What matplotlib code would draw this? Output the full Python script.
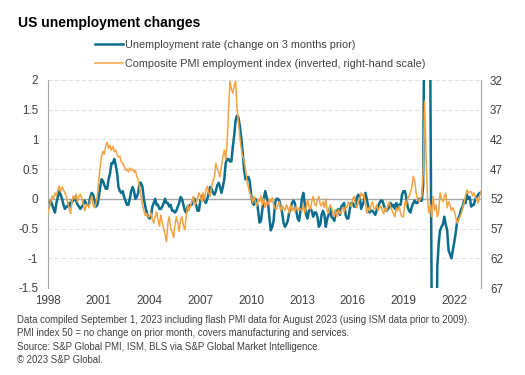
import numpy as np
import pandas as pd
import matplotlib
matplotlib.use('Agg')
import matplotlib.pyplot as plt
import matplotlib.dates as mdates

plt.rcParams['font.family'] = ['Liberation Sans', 'DejaVu Sans']

# US unemployment rate, change on 3 months prior (ppts), monthly Jan 1998 - Aug 2023
unemp_chg = [
    -0.17, -0.10, -0.03, -0.10, -0.17, -0.23, -0.07, 0.03, 0.13, 0.07, 0.00, -0.10,   # 1998
    -0.17, -0.13, -0.13, -0.07, -0.13, -0.03, -0.03, 0.03, -0.03, -0.10, -0.13, -0.17,  # 1999
    -0.13, -0.10, -0.03, -0.07, -0.10, -0.10, 0.03, 0.10, 0.07, -0.03, -0.13, -0.10,   # 2000
    0.03, 0.20, 0.33, 0.30, 0.23, 0.17, 0.17, 0.33, 0.43, 0.60, 0.60, 0.67,            # 2001
    0.57, 0.43, 0.20, 0.13, 0.10, 0.13, 0.03, -0.03, -0.10, -0.10, 0.00, 0.13,         # 2002
    0.20, 0.13, 0.00, 0.03, 0.10, 0.27, 0.27, 0.20, 0.00, -0.13, -0.23, -0.30,         # 2003
    -0.33, -0.30, -0.13, -0.07, 0.00, -0.10, -0.10, -0.17, -0.17, -0.13, -0.07, 0.00,  # 2004
    -0.07, -0.07, -0.13, -0.10, -0.20, -0.20, -0.23, -0.20, -0.13, -0.07, 0.03, 0.00,  # 2005
    -0.10, -0.20, -0.23, -0.13, -0.13, -0.10, -0.10, 0.00, 0.00, -0.10, -0.20, -0.20,  # 2006
    -0.03, 0.03, 0.07, -0.03, -0.07, 0.00, 0.10, 0.20, 0.17, 0.10, 0.07, 0.13,         # 2007
    0.23, 0.27, 0.20, 0.10, 0.20, 0.33, 0.60, 0.67, 0.67, 0.63, 0.63, 0.87,            # 2008
    1.07, 1.33, 1.40, 1.37, 1.23, 1.03, 0.80, 0.50, 0.33, 0.33, 0.37, 0.30,            # 2009
    0.07, -0.07, -0.10, 0.00, -0.03, -0.20, -0.40, -0.37, -0.17, 0.00, 0.13, 0.03,     # 2010
    -0.07, -0.33, -0.53, -0.47, -0.37, -0.07, 0.00, 0.00, -0.03, -0.13, -0.23, -0.40,  # 2011
    -0.47, -0.43, -0.37, -0.23, -0.17, -0.07, -0.03, -0.07, -0.20, -0.33, -0.37, -0.20,  # 2012
    0.00, 0.10, -0.07, -0.27, -0.33, -0.20, -0.17, -0.20, -0.30, -0.23, -0.23, -0.30,  # 2013
    -0.47, -0.43, -0.27, -0.20, -0.27, -0.47, -0.33, -0.27, -0.13, -0.30, -0.33, -0.37,  # 2014
    -0.20, -0.20, -0.17, -0.27, -0.13, -0.10, -0.07, -0.27, -0.33, -0.33, -0.17, -0.07,  # 2015
    -0.07, -0.13, -0.13, 0.03, 0.07, 0.03, -0.17, -0.10, -0.03, 0.10, 0.00, -0.13,    # 2016
    -0.23, -0.20, -0.20, -0.23, -0.27, -0.20, -0.13, -0.07, -0.03, -0.03, -0.10, -0.17,  # 2017
    -0.20, -0.17, -0.13, -0.07, -0.13, -0.10, -0.17, -0.07, -0.17, -0.10, -0.10, 0.07,  # 2018
    0.13, 0.13, 0.03, -0.13, -0.20, -0.23, -0.13, -0.07, -0.03, -0.07, -0.07, 0.00,    # 2019
    -0.03, -0.03, 0.23, 3.97, 7.23, 9.47, 7.67, 2.30, -1.97, -5.27, -4.30, -3.10,      # 2020
    -1.13, -0.73, -0.53, -0.47, -0.43, -0.30, -0.43, -0.53, -0.87, -0.93, -1.00, -0.87,  # 2021
    -0.73, -0.57, -0.40, -0.33, -0.27, -0.17, -0.13, -0.03, -0.07, 0.07, 0.00, 0.03,   # 2022
    -0.13, -0.10, -0.10, 0.00, 0.03, 0.07, 0.10, 0.10,                                 # 2023
]

# Composite PMI employment index (ISM before 2009), same months
pmi_emp = [
    54.4, 53.2, 52.5, 51.5, 52.0, 51.0, 51.5, 50.5, 49.8, 50.8, 50.0, 50.5,  # 1998
    51.0, 51.5, 52.5, 53.5, 54.5, 52.5, 51.5, 52.0, 51.2, 52.5, 51.5, 51.2,  # 1999
    52.0, 52.8, 54.0, 53.2, 52.8, 53.5, 52.5, 51.5, 53.0, 53.5, 52.8, 51.5,  # 2000
    48.8, 46.5, 44.8, 44.0, 44.5, 43.0, 42.5, 43.5, 43.0, 43.8, 43.2, 44.0,  # 2001
    43.8, 44.5, 45.0, 44.8, 45.8, 46.0, 46.5, 47.2, 47.0, 47.5, 46.8, 47.2,  # 2002
    47.0, 47.5, 47.2, 48.2, 48.8, 50.0, 51.6, 53.0, 54.0, 54.8, 54.5, 55.0,  # 2003
    55.0, 54.4, 55.5, 56.1, 55.0, 54.2, 55.5, 56.6, 54.7, 56.0, 57.0, 58.0,  # 2004
    59.2, 56.0, 55.0, 57.0, 57.5, 58.5, 56.5, 55.0, 56.0, 57.5, 55.5, 55.0,  # 2005
    56.5, 57.2, 55.0, 53.0, 54.0, 53.2, 52.5, 51.6, 53.0, 52.7, 52.0, 51.0,  # 2006
    51.5, 52.5, 51.0, 52.2, 50.5, 49.9, 51.0, 51.6, 50.0, 49.0, 48.3, 46.0,  # 2007
    47.0, 47.5, 48.3, 46.5, 45.0, 43.8, 45.4, 42.5, 37.0, 32.2, 33.5, 34.2,  # 2008
    33.0, 32.2, 36.5, 39.0, 41.5, 43.5, 44.8, 45.5, 47.0, 48.8, 50.0, 51.0,  # 2009
    51.5, 52.7, 51.6, 52.5, 53.3, 52.0, 52.5, 51.5, 53.0, 52.0, 53.5, 52.5,  # 2010
    53.0, 52.0, 52.5, 51.8, 53.0, 53.6, 53.8, 53.0, 52.5, 54.0, 53.2, 53.5,  # 2011
    54.0, 53.0, 53.5, 54.4, 53.0, 54.0, 53.5, 54.2, 53.2, 54.0, 53.5, 53.8,  # 2012
    54.0, 53.0, 54.4, 53.5, 52.2, 53.2, 53.8, 52.5, 51.6, 52.8, 53.2, 52.2,  # 2013
    51.6, 53.0, 53.2, 52.5, 53.5, 52.0, 54.0, 54.4, 53.0, 53.5, 54.5, 55.0,  # 2014
    54.0, 55.0, 53.8, 54.5, 54.0, 53.5, 54.2, 53.2, 53.5, 52.5, 53.0, 53.3,  # 2015
    52.0, 51.6, 53.0, 53.5, 52.5, 52.0, 51.0, 51.5, 51.2, 53.0, 54.4, 53.5,  # 2016
    54.0, 53.0, 52.5, 53.5, 53.8, 53.0, 54.0, 53.5, 53.2, 54.0, 54.5, 53.5,  # 2017
    54.0, 53.0, 52.5, 53.5, 54.0, 54.5, 55.0, 53.5, 54.0, 53.2, 54.5, 55.0,  # 2018
    55.0, 52.5, 53.0, 52.0, 51.5, 51.0, 50.0, 48.2, 49.0, 51.0, 52.0, 52.5,  # 2019
    52.0, 51.5, 47.5, 35.6, 44.5, 51.5, 54.4, 53.0, 55.0, 51.6, 53.9, 53.0,  # 2020
    55.0, 54.0, 51.0, 52.0, 52.5, 51.6, 51.0, 53.5, 52.5, 53.0, 54.0, 53.5,  # 2021
    54.0, 55.0, 56.1, 55.5, 55.0, 54.5, 53.5, 52.7, 51.5, 50.5, 51.0, 50.8,  # 2022
    50.8, 51.5, 51.0, 51.6, 52.2, 52.7, 51.5, 50.7,                          # 2023
]

left_ticks = [-1.5, -1, -0.5, 0, 0.5, 1, 1.5, 2]
right_ticks = [32, 37, 42, 47, 52, 57, 62, 67]

labels = ['Unemployment rate (change on 3 months prior)',
          'Composite PMI employment index (inverted, right-hand scale)']
notes = [
    'Data compiled September 1, 2023 including flash PMI data for August 2023 (using ISM data prior to 2009).',
    'PMI index 50 = no change on prior month, covers manufacturing and services.',
    'Source: S&P Global PMI, ISM, BLS via S&P Global Market Intelligence.',
    '\u00a9 2023 S&P Global.',
]

dates = pd.date_range('1998-01-01', periods=len(unemp_chg), freq='MS')

blue = '#0b6e8e'
orange = '#f4a340'
txt = '#404040'
line_grey = '#a6a6a6'

fig = plt.figure(figsize=(5.25, 3.75), dpi=100)
ax = fig.add_axes([48 / 525, 87 / 375, 433 / 525, 208 / 375])
ax2 = ax.twinx()

# gridlines
for v in left_ticks:
    if v == 0:
        ax.axhline(v, color=line_grey, lw=1.0, zorder=1)
    else:
        ax.axhline(v, color='#e2e2e2', lw=0.8, ls=(0, (4, 2)), zorder=0.5)

ln1, = ax.plot(dates, unemp_chg, color=blue, lw=1.8, solid_joinstyle='round', zorder=2)
ln2, = ax2.plot(dates, pmi_emp, color=orange, lw=1.1, solid_joinstyle='round', zorder=2)

ax.set_ylim(-1.5, 2)
ax.set_yticks(left_ticks)
ax.set_yticklabels(['{:g}'.format(v) for v in left_ticks])
ax2.set_ylim(67, 32)
ax2.set_yticks(right_ticks)
ax.set_xlim(dates[0], dates[-1])
ax.xaxis.set_major_locator(mdates.YearLocator(3))
ax.xaxis.set_major_formatter(mdates.DateFormatter('%Y'))

for a in (ax, ax2):
    for s in a.spines.values():
        s.set_visible(False)
ax.spines['left'].set_visible(True)
ax.spines['left'].set_color(line_grey)
ax2.spines['right'].set_visible(True)
ax2.spines['right'].set_color(line_grey)

ax.tick_params(axis='y', length=0, pad=7, labelsize=8.4, labelcolor=txt)
ax.tick_params(axis='x', length=0, pad=5, labelsize=8.4, labelcolor=txt)
ax2.tick_params(axis='y', length=0, pad=6.5, labelsize=8.4, labelcolor=txt)

fig.text(18 / 525, 1 - 27 / 375, 'US unemployment changes', fontsize=10,
         fontweight='bold', color='#000000', va='baseline')

fig.legend([ln1, ln2], labels, loc='upper left', bbox_to_anchor=(95 / 525, 1 - 40 / 375),
           frameon=False, fontsize=7.8, labelcolor=txt, handlelength=2.6,
           handletextpad=0.2, labelspacing=0.8, borderpad=0, borderaxespad=0)

for i, line in enumerate(notes):
    fig.text(17 / 525, 1 - (323 + 13.4 * i) / 375, line, fontsize=6.9,
             color=txt, va='baseline')

fig.savefig('out.png', dpi=100)
